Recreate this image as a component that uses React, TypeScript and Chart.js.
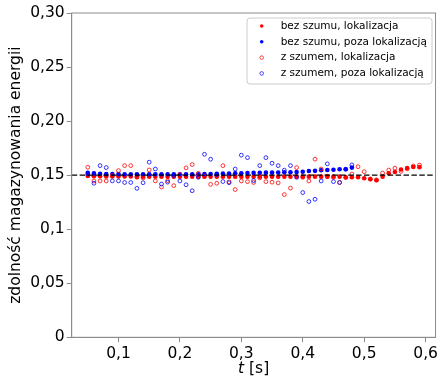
import React, { useEffect, useRef } from 'react';
import { Chart, registerables } from 'chart.js';

Chart.register(...registerables);

// time [s]
const tValues = [
  0.05, 0.06, 0.07, 0.08, 0.09, 0.10, 0.11, 0.12, 0.13, 0.14,
  0.15, 0.16, 0.17, 0.18, 0.19, 0.20, 0.21, 0.22, 0.23, 0.24,
  0.25, 0.26, 0.27, 0.28, 0.29, 0.30, 0.31, 0.32, 0.33, 0.34,
  0.35, 0.36, 0.37, 0.38, 0.39, 0.40, 0.41, 0.42, 0.43, 0.44,
  0.45, 0.46, 0.47, 0.48, 0.49, 0.50, 0.51, 0.52, 0.53, 0.54,
  0.55, 0.56, 0.57, 0.58, 0.59,
];

// bez szumu, lokalizacja (red, filled)
const bezSzumuLok = [
  0.1492, 0.1490, 0.1490, 0.1488, 0.1488, 0.1487, 0.1487, 0.1487, 0.1486, 0.1486,
  0.1486, 0.1486, 0.1486, 0.1486, 0.1486, 0.1486, 0.1486, 0.1486, 0.1486, 0.1486,
  0.1486, 0.1486, 0.1486, 0.1486, 0.1486, 0.1486, 0.1486, 0.1486, 0.1486, 0.1486,
  0.1486, 0.1486, 0.1486, 0.1486, 0.1486, 0.1486, 0.1486, 0.1486, 0.1486, 0.1486,
  0.1486, 0.1486, 0.1480, 0.1480, 0.1480, 0.1472, 0.1462, 0.1453, 0.1486, 0.1517,
  0.1529, 0.1552, 0.1566, 0.1576, 0.1574,
];

// bez szumu, poza lokalizacją (blue, filled)
const bezSzumuPoza = [
  0.1522, 0.1516, 0.1513, 0.1511, 0.1510, 0.1510, 0.1509, 0.1509, 0.1508, 0.1508,
  0.1508, 0.1508, 0.1508, 0.1508, 0.1508, 0.1508, 0.1508, 0.1508, 0.1509, 0.1510,
  0.1511, 0.1512, 0.1514, 0.1515, 0.1517, 0.1518, 0.1520, 0.1521, 0.1522, 0.1523,
  0.1524, 0.1525, 0.1526, 0.1527, 0.1528, 0.1532, 0.1538, 0.1540, 0.1546, 0.1548,
  0.1550, 0.1554, 0.1555, 0.1570,
];

// z szumem, lokalizacja (red, open)
const zSzumemLok = [
  0.1573, 0.1446, 0.1446, 0.1446, 0.1498, 0.1542, 0.1588, 0.1588, 0.1480, 0.1474,
  0.1548, 0.1447, 0.1390, 0.1449, 0.1403, 0.1505, 0.1567, 0.1598, 0.1517, 0.1490,
  0.1415, 0.1425, 0.1588, 0.1438, 0.1367, 0.1446, 0.1440, 0.1432, 0.1475, 0.1440,
  0.1435, 0.1428, 0.1320, 0.1380, 0.1570, 0.1480, 0.1446, 0.1648, 0.1557, 0.1490,
  0.1480, 0.1432, 0.1477, 0.1510, 0.1578, 0.1532, 0.1465, 0.1456, 0.1520, 0.1547,
  0.1565, 0.1535, 0.1558, 0.1585, 0.1593,
];

// z szumem, poza lokalizacją (blue, open)
const zSzumemPoza = [
  0.1510, 0.1425, 0.1588, 0.1570, 0.1447, 0.1447, 0.1432, 0.1432, 0.1378, 0.1430,
  0.1620, 0.1557, 0.1418, 0.1435, 0.1495, 0.1446, 0.1411, 0.1356, 0.1480, 0.1693,
  0.1647, 0.1505, 0.1441, 0.1430, 0.1557, 0.1685, 0.1662, 0.1450, 0.1588, 0.1662,
  0.1610, 0.1588, 0.1546, 0.1588, 0.1480, 0.1339, 0.1256, 0.1277, 0.1446, 0.1605,
  0.1440, 0.1432, 0.1555, 0.1595,
];

const refLevel = 0.15;

const xTickValues = [0.1, 0.2, 0.3, 0.4, 0.5, 0.6];
const xTickLabels = ['0,1', '0,2', '0,3', '0,4', '0,5', '0,6'];
const yTickValues = [0, 0.05, 0.1, 0.15, 0.2, 0.25, 0.3];
const yTickLabels = ['0', '0,05', '0,1', '0,15', '0,20', '0,25', '0,30'];

const seriesNames = [
  'bez szumu, lokalizacja',
  'bez szumu, poza lokalizacją',
  'z szumem, lokalizacja',
  'z szumem, poza lokalizacją',
];

const FONT = "'DejaVu Sans', sans-serif";
const AXIS_COLOR = '#8c8c8c';

function toPoints(vals: number[]) {
  return vals.map((v, i) => ({ x: tValues[i], y: v }));
}

function labelFor(values: number[], labels: string[], v: number) {
  const idx = values.findIndex((t) => Math.abs(t - v) < 1e-9);
  return idx >= 0 ? labels[idx] : '';
}

export default function App() {
  const ref = useRef<HTMLCanvasElement>(null);

  useEffect(() => {
    const canvas = ref.current;
    if (!canvas) return;

    const extras = {
      id: 'extras',
      afterDatasetsDraw(chart: any) {
        const { ctx, chartArea, scales } = chart;
        const y = scales.y.getPixelForValue(refLevel);
        ctx.save();
        ctx.strokeStyle = '#000';
        ctx.lineWidth = 1.3;
        ctx.setLineDash([5.5, 2.4]);
        ctx.beginPath();
        ctx.moveTo(chartArea.left, y);
        ctx.lineTo(chartArea.right, y);
        ctx.stroke();
        ctx.restore();
      },
      afterDraw(chart: any) {
        const { ctx, chartArea } = chart;
        ctx.save();
        // frame
        ctx.strokeStyle = AXIS_COLOR;
        ctx.lineWidth = 1;
        ctx.strokeRect(chartArea.left, chartArea.top, chartArea.right - chartArea.left, chartArea.bottom - chartArea.top);

        // x title with italic t
        const cx = (chartArea.left + chartArea.right) / 2;
        const ty = 369;
        ctx.fillStyle = '#000';
        ctx.textBaseline = 'middle';
        ctx.font = `italic 15.5px ${FONT}`;
        const wT = ctx.measureText('t').width;
        ctx.font = `15.5px ${FONT}`;
        const wRest = ctx.measureText(' [s]').width;
        const sx = cx - (wT + wRest) / 2;
        ctx.textAlign = 'left';
        ctx.font = `italic 15.5px ${FONT}`;
        ctx.fillText('t', sx, ty);
        ctx.font = `15.5px ${FONT}`;
        ctx.fillText(' [s]', sx + wT, ty);

        // legend
        const lx = 247, ly = 18, lw = 185, lh = 66;
        ctx.beginPath();
        const r = 3;
        ctx.moveTo(lx + r, ly);
        ctx.lineTo(lx + lw - r, ly);
        ctx.quadraticCurveTo(lx + lw, ly, lx + lw, ly + r);
        ctx.lineTo(lx + lw, ly + lh - r);
        ctx.quadraticCurveTo(lx + lw, ly + lh, lx + lw - r, ly + lh);
        ctx.lineTo(lx + r, ly + lh);
        ctx.quadraticCurveTo(lx, ly + lh, lx, ly + lh - r);
        ctx.lineTo(lx, ly + r);
        ctx.quadraticCurveTo(lx, ly, lx + r, ly);
        ctx.closePath();
        ctx.fillStyle = 'rgba(255,255,255,0.8)';
        ctx.fill();
        ctx.strokeStyle = '#cccccc';
        ctx.lineWidth = 1;
        ctx.stroke();

        chart.data.datasets.forEach((ds: any, i: number) => {
          const yy = 26 + i * 15.8;
          ctx.beginPath();
          ctx.arc(261.7, yy, 1.8, 0, Math.PI * 2);
          if (ds.filled) {
            ctx.fillStyle = ds.backgroundColor;
            ctx.fill();
          } else {
            ctx.strokeStyle = ds.borderColor;
            ctx.lineWidth = 0.7;
            ctx.stroke();
          }
          ctx.fillStyle = '#000';
          ctx.font = `10.5px ${FONT}`;
          ctx.textAlign = 'left';
          ctx.textBaseline = 'middle';
          ctx.fillText(ds.label, 280.7, yy);
        });
        ctx.restore();
      },
    };

    const chart = new Chart(canvas, {
      type: 'scatter',
      data: {
        datasets: [
          {
            label: seriesNames[0],
            data: toPoints(bezSzumuLok),
            backgroundColor: '#ff0000',
            borderColor: '#ff0000',
            borderWidth: 0,
            pointRadius: 2.3,
            order: 4,
            filled: true,
          } as any,
          {
            label: seriesNames[1],
            data: toPoints(bezSzumuPoza),
            backgroundColor: '#0000ff',
            borderColor: '#0000ff',
            borderWidth: 0,
            pointRadius: 2.3,
            order: 3,
            filled: true,
          } as any,
          {
            label: seriesNames[2],
            data: toPoints(zSzumemLok),
            backgroundColor: 'rgba(0,0,0,0)',
            borderColor: '#ff0000',
            borderWidth: 0.8,
            pointRadius: 1.9,
            order: 2,
            filled: false,
          } as any,
          {
            label: seriesNames[3],
            data: toPoints(zSzumemPoza),
            backgroundColor: 'rgba(0,0,0,0)',
            borderColor: '#0000ff',
            borderWidth: 0.8,
            pointRadius: 1.9,
            order: 1,
            filled: false,
          } as any,
        ],
      },
      options: {
        responsive: false,
        animation: false,
        devicePixelRatio: 1,
        layout: { padding: { top: 13, right: 2.7, left: 0, bottom: 0 } },
        plugins: {
          legend: { display: false },
          tooltip: { enabled: false },
        },
        elements: { point: { hoverRadius: 2.3 } },
        scales: {
          x: {
            type: 'linear',
            min: 0.0238,
            max: 0.6162,
            afterBuildTicks: (s: any) => {
              s.ticks = xTickValues.map((v) => ({ value: v }));
            },
            afterFit: (s: any) => {
              s.height = 41.7;
            },
            ticks: {
              autoSkip: false,
              maxRotation: 0,
              padding: 2,
              color: '#000',
              font: { family: FONT, size: 15.5 },
              callback: (v: any) => labelFor(xTickValues, xTickLabels, Number(v)),
            },
            grid: {
              display: true,
              drawOnChartArea: false,
              drawTicks: true,
              tickLength: 5,
              tickColor: AXIS_COLOR,
              tickWidth: 1,
            },
            border: { display: true, color: AXIS_COLOR, width: 1 },
          },
          y: {
            type: 'linear',
            min: 0,
            max: 0.3,
            afterBuildTicks: (s: any) => {
              s.ticks = yTickValues.map((v) => ({ value: v }));
            },
            afterFit: (s: any) => {
              s.width = 71.7;
            },
            ticks: {
              autoSkip: false,
              padding: 2,
              color: '#000',
              font: { family: FONT, size: 15.5 },
              callback: (v: any) => labelFor(yTickValues, yTickLabels, Number(v)),
            },
            grid: {
              display: true,
              drawOnChartArea: false,
              drawTicks: true,
              tickLength: 5,
              tickColor: AXIS_COLOR,
              tickWidth: 1,
            },
            border: { display: true, color: AXIS_COLOR, width: 1 },
            title: {
              display: true,
              text: 'zdolność magazynowania energii',
              color: '#000',
              font: { family: FONT, size: 15.5 },
              padding: { top: 6.7, bottom: 0 },
            },
          },
        },
      },
      plugins: [extras],
    } as any);

    return () => chart.destroy();
  }, []);

  return (
    <div style={{ position: 'fixed', left: 0, top: 0, width: 440, height: 379, background: '#fff' }}>
      <canvas ref={ref} width={440} height={379} style={{ display: 'block', width: 440, height: 379 }} />
    </div>
  );
}
